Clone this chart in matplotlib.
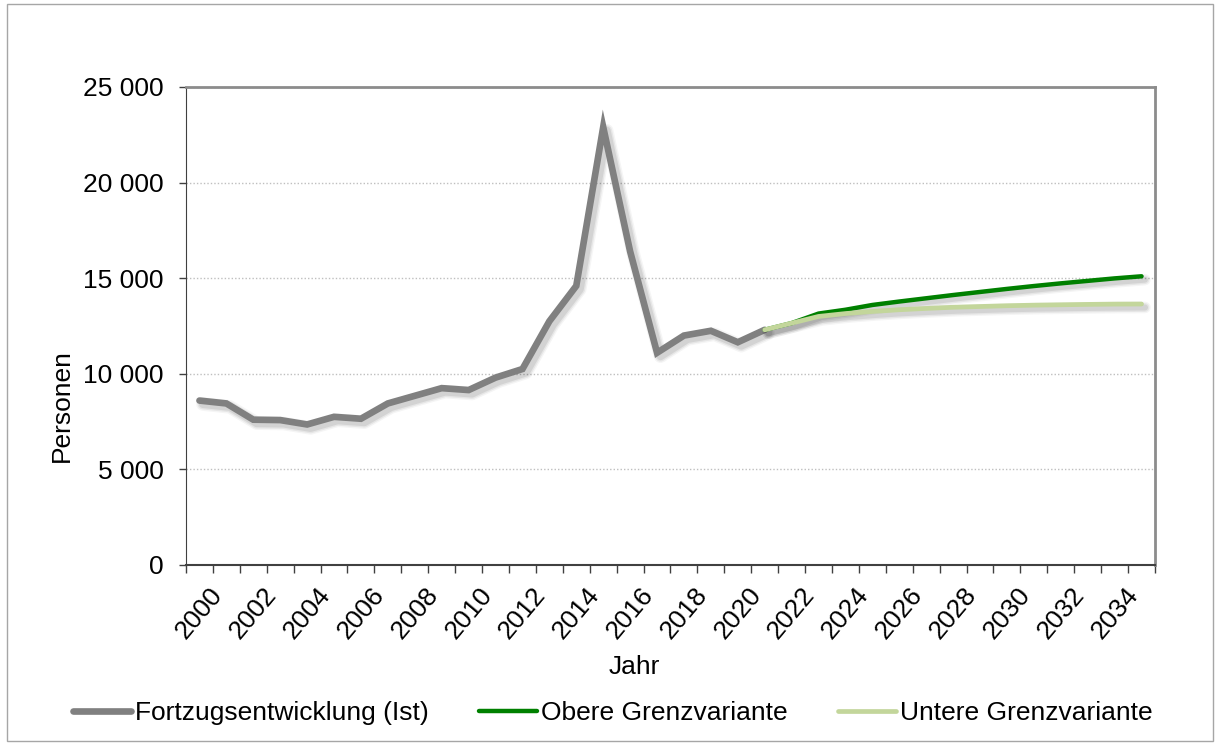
import matplotlib.pyplot as plt
import matplotlib.patheffects as pe
from matplotlib.lines import Line2D
from matplotlib.ticker import FuncFormatter, FixedLocator
import numpy as np

plt.rcParams['font.family'] = ['Liberation Sans', 'DejaVu Sans']

# data
ist_years = list(range(2000, 2022))
ist_vals = [8600, 8450, 7600, 7580, 7350, 7750, 7650, 8450, 8850, 9250,
            9150, 9800, 10250, 12750, 14600, 22900, 16400, 11100, 12000,
            12250, 11650, 12300]

var_years = list(range(2021, 2036))
obere_vals = [12300, 12650, 13150, 13350, 13600, 13780, 13950, 14120, 14280,
              14440, 14590, 14730, 14860, 14990, 15100]
untere_vals = [12300, 12650, 13000, 13150, 13260, 13350, 13420, 13480, 13520,
               13560, 13590, 13610, 13630, 13645, 13650]

label_years = list(range(2000, 2035, 2))

c_ist, c_obere, c_untere = '#808080', '#008000', '#c3d69b'
FS = 19

W, H = 1216, 745
fig = plt.figure(figsize=(W / 100, H / 100), dpi=100)
ax = fig.add_axes([186 / W, 1 - 565 / H, (1155 - 186) / W, (565 - 87) / H])


def soft_shadow(lw):
    # a few wide, faint copies to fake the blurred drop shadow
    effs = []
    for extra, a in [(5, 0.04), (3, 0.06), (1, 0.08)]:
        effs.append(pe.SimpleLineShadow(offset=(2.5, -2.5), shadow_color='black',
                                        alpha=a, linewidth=lw + extra, joinstyle='round'))
    effs.append(pe.Normal())
    return effs


ax.plot(ist_years, ist_vals, color=c_ist, lw=4.8, solid_capstyle='round',
        solid_joinstyle='miter', path_effects=soft_shadow(4.8), zorder=3)
ax.plot(var_years, obere_vals, color=c_obere, lw=3.2, solid_capstyle='round',
        path_effects=soft_shadow(3.2), zorder=4)
ax.plot(var_years, untere_vals, color=c_untere, lw=3.4, solid_capstyle='round',
        path_effects=soft_shadow(3.4), zorder=5)

ax.set_xlim(1999.5, 2035.5)
ax.set_ylim(0, 25000)
ax.set_yticks(np.arange(0, 25001, 5000))
ax.yaxis.set_major_formatter(FuncFormatter(lambda v, p: f"{int(v):,}".replace(',', ' ')))
ax.grid(axis='y', color='#bfbfbf', ls=(0, (1, 1.5)), lw=1)
ax.set_axisbelow(True)

ax.xaxis.set_major_locator(FixedLocator(label_years))
ax.xaxis.set_minor_locator(FixedLocator(np.arange(1999.5, 2036, 1)))
ax.set_xticklabels([str(y) for y in label_years], rotation=50)
ax.tick_params(axis='x', which='major', length=0, pad=13, labelsize=FS)
ax.tick_params(axis='x', which='minor', length=6, width=1, color='#404040')
ax.tick_params(axis='y', length=5, width=1, color='#404040', pad=11, labelsize=FS)

for s in ['top', 'right']:
    ax.spines[s].set_color('#8c8c8c')
    ax.spines[s].set_linewidth(2)
ax.spines['left'].set_color('#404040')
ax.spines['bottom'].set_color('#404040')
ax.spines['bottom'].set_linewidth(1.5)

fig.text(634 / W, 1 - 667 / H, 'Jahr', ha='center', va='center', fontsize=FS)
fig.text(62 / W, 1 - 406 / H, 'Personen', ha='center', va='center', rotation=90, fontsize=FS)

handles = [Line2D([], [], color=c_ist, lw=4.8, solid_capstyle='round'),
           Line2D([], [], color=c_obere, lw=3.2, solid_capstyle='round'),
           Line2D([], [], color=c_untere, lw=3.4, solid_capstyle='round')]
fig.legend(handles, ['Fortzugsentwicklung (Ist)', 'Obere Grenzvariante', 'Untere Grenzvariante'],
           loc='center', bbox_to_anchor=(613 / W, 1 - 713 / H), ncol=3, frameon=False,
           fontsize=FS, handlelength=2.2, handletextpad=0.15, columnspacing=1.9)

fig.patches.append(plt.Rectangle((7 / W, 4 / H), 1206 / W, 737 / H, transform=fig.transFigure,
                                 fill=False, edgecolor='#a6a6a6', lw=1))

fig.savefig('out.png', dpi=100)
